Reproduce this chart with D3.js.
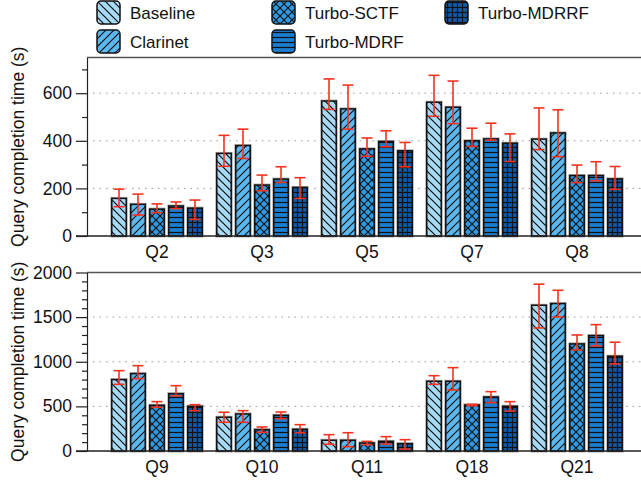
<!DOCTYPE html>
<html>
<head>
<meta charset="utf-8">
<script src="https://cdn.jsdelivr.net/npm/d3@7"></script>
<style>
  body { margin: 0; background: #fff; }
  text { font-family: "Liberation Sans", Arial, Helvetica, sans-serif; fill: #111; }
</style>
</head>
<body>
<script>
// series and colours
const series = ['Baseline', 'Clarinet', 'Turbo-SCTF', 'Turbo-MDRF', 'Turbo-MDRRF'];
const colors = ['#a6daf7', '#5ab8f0', '#2e9be6', '#1b7dcf', '#0d5aa8'];

// top panel
const topQueries = ['Q2', 'Q3', 'Q5', 'Q7', 'Q8'];
const topMean = [
  [158, 133, 113, 126, 117],
  [347, 380, 214, 239, 204],
  [567, 534, 366, 397, 358],
  [562, 541, 400, 408, 390],
  [407, 433, 254, 254, 240]
];
const topHi = [
  [197, 176, 135, 143, 151],
  [423, 449, 256, 291, 245],
  [660, 634, 412, 442, 393],
  [675, 651, 453, 474, 429],
  [538, 530, 298, 312, 292]
];
const topLo = [
  [123, 88, 98, 115, 70],
  [293, 326, 190, 225, 158],
  [532, 449, 335, 375, 291],
  [503, 472, 376, 403, 313],
  [363, 333, 224, 232, 196]
];
const topTicks = [0, 200, 400, 600];

// bottom panel
const botQueries = ['Q9', 'Q10', 'Q11', 'Q18', 'Q21'];
const botMean = [
  [800, 867, 512, 642, 501],
  [378, 415, 239, 400, 243],
  [120, 120, 90, 108, 82],
  [781, 781, 516, 605, 501],
  [1633, 1652, 1200, 1293, 1062]
];
const botHi = [
  [900, 956, 553, 732, 519],
  [434, 452, 269, 437, 295],
  [183, 205, 108, 161, 127],
  [844, 934, 523, 665, 553],
  [1869, 1801, 1300, 1416, 1219]
];
const botLo = [
  [747, 811, 490, 617, 452],
  [322, 322, 209, 362, 205],
  [75, 48, 71, 78, 22],
  [747, 684, 508, 542, 448],
  [1379, 1502, 1132, 1177, 975]
];
const botTicks = [0, 500, 1000, 1500, 2000];

const W = 641, H = 480;
const left = 87, right = 641;

const svg = d3.select('body').append('svg')
  .attr('width', W).attr('height', H);

// hatch patterns
const defs = svg.append('defs');
function pattern(id, size, bg, paths) {
  const p = defs.append('pattern')
    .attr('id', id)
    .attr('patternUnits', 'userSpaceOnUse')
    .attr('width', size).attr('height', size);
  p.append('rect').attr('width', size).attr('height', size).attr('fill', bg);
  paths.forEach(d => p.append('path').attr('d', d)
    .attr('stroke', '#111').attr('stroke-width', 1.2).attr('fill', 'none'));
}
pattern('p0', 8, colors[0], ['M0,0L8,8', 'M-4,4L4,12', 'M4,-4L12,4']);
pattern('p1', 8, colors[1], ['M0,8L8,0', 'M-4,4L4,-4', 'M4,12L12,4']);
pattern('p2', 8, colors[2], ['M0,0L8,8', 'M-4,4L4,12', 'M4,-4L12,4', 'M0,8L8,0', 'M-4,4L4,-4', 'M4,12L12,4']);
pattern('p3', 5, colors[3], ['M0,2.5L5,2.5']);
pattern('p4', 5, colors[4], ['M0,2.5L5,2.5', 'M2.5,0L2.5,5']);

const inner = d3.scaleBand()
  .domain(series)
  .range([-47.5, 47.5])
  .paddingInner(0.24)
  .paddingOuter(0.12);

function panel(y0, y1, maxV, ticks, minorStep, queries, mean, hi, lo) {
  const g = svg.append('g');
  const x = d3.scaleBand().domain(queries).range([104.5, 629.5]);
  const y = d3.scaleLinear().domain([0, maxV]).range([y1, y0]);

  // grid
  g.selectAll('.grid')
    .data(ticks.filter(t => t > 0 && t < maxV))
    .enter().append('line')
    .attr('x1', 93).attr('x2', right)
    .attr('y1', d => y(d)).attr('y2', d => y(d))
    .attr('stroke', '#999').attr('stroke-width', 1)
    .attr('stroke-dasharray', '1.5,5');

  // top frame line
  g.append('line')
    .attr('x1', left).attr('x2', right)
    .attr('y1', y0).attr('y2', y0)
    .attr('stroke', '#555').attr('stroke-width', 1.3);

  // bars
  queries.forEach((q, qi) => {
    const cx = x(q) + x.bandwidth() / 2;
    series.forEach((s, si) => {
      const bx = cx + inner(s);
      const bw = inner.bandwidth();
      const v = mean[qi][si];
      g.append('rect')
        .attr('x', bx).attr('y', y(v))
        .attr('width', bw).attr('height', y(0) - y(v))
        .attr('fill', 'none').attr('stroke', '#aaa').attr('stroke-width', 3);
      g.append('rect')
        .attr('x', bx).attr('y', y(v))
        .attr('width', bw).attr('height', y(0) - y(v))
        .attr('fill', 'url(#p' + si + ')')
        .attr('stroke', '#111').attr('stroke-width', 1.5);
    });
  });

  // error bars
  queries.forEach((q, qi) => {
    const cx = x(q) + x.bandwidth() / 2;
    series.forEach((s, si) => {
      const ex = cx + inner(s) + inner.bandwidth() / 2;
      const eg = g.append('g')
        .attr('stroke', '#f2331f').attr('stroke-width', 1.6);
      eg.append('line').attr('x1', ex).attr('x2', ex)
        .attr('y1', y(hi[qi][si])).attr('y2', y(lo[qi][si]));
      [hi[qi][si], lo[qi][si]].forEach(v => {
        eg.append('line').attr('x1', ex - 5.5).attr('x2', ex + 5.5)
          .attr('y1', y(v)).attr('y2', y(v));
      });
    });
  });

  // y axis with minor ticks
  const minor = d3.range(0, maxV + 1, minorStep).filter(v => !ticks.includes(v));
  const ya = g.append('g').attr('transform', 'translate(' + left + ',0)');
  ya.call(d3.axisLeft(y).tickValues(minor).tickSize(5).tickFormat(''))
    .call(a => a.select('.domain').remove());
  const yMaj = g.append('g').attr('transform', 'translate(' + left + ',0)');
  yMaj.call(d3.axisLeft(y).tickValues(ticks).tickSize(11).tickPadding(4)
    .tickSizeOuter(0).tickFormat(d3.format('d')));
  yMaj.selectAll('text').style('font-size', '17.5px')
    .style('font-family', '"Liberation Sans", Arial, sans-serif');
  g.selectAll('.tick line').attr('stroke', '#222').attr('stroke-width', 1.2);
  yMaj.select('.domain').attr('stroke', '#222').attr('stroke-width', 1.2);

  // x axis
  g.append('line')
    .attr('x1', left - 11).attr('x2', right)
    .attr('y1', y1).attr('y2', y1)
    .attr('stroke', '#222').attr('stroke-width', 1.3);
  g.selectAll('.xl')
    .data(queries)
    .enter().append('text')
    .attr('x', d => x(d) + x.bandwidth() / 2)
    .attr('y', y1 + 21.5)
    .attr('text-anchor', 'middle')
    .style('font-size', '17.5px')
    .text(d => d);

  // y label
  g.append('text')
    .attr('transform', 'translate(24,' + (y0 + y1) / 2 + ') rotate(-90)')
    .attr('text-anchor', 'middle')
    .style('font-size', '17.5px')
    .text('Query completion time (s)');
}

panel(57.5, 236, 750, topTicks, 100, topQueries, topMean, topHi, topLo);
panel(272.5, 451, 2000, botTicks, 100, botQueries, botMean, botHi, botLo);

// legend
const legPos = [[97, 1], [97, 30], [272, 1], [272, 30], [445, 1]];
const leg = svg.append('g');
series.forEach((s, i) => {
  const [lx, ly] = legPos[i];
  leg.append('rect')
    .attr('x', lx).attr('y', ly)
    .attr('width', 23).attr('height', 23)
    .attr('rx', 4)
    .attr('fill', 'url(#p' + i + ')')
    .attr('stroke', '#111').attr('stroke-width', 1.5);
  leg.append('text')
    .attr('x', lx + 33).attr('y', ly + 18)
    .style('font-size', '17px')
    .text(s);
});
</script>
</body>
</html>
